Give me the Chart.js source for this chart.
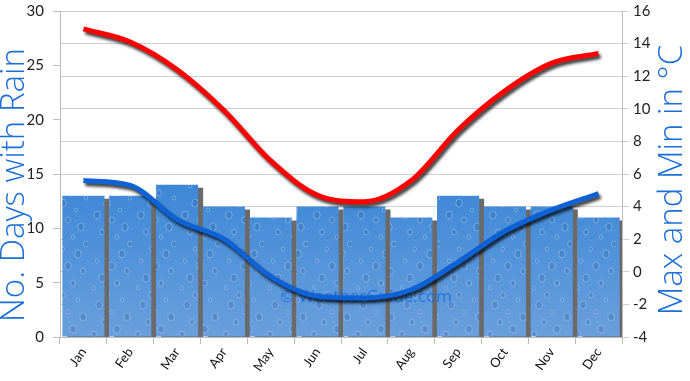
<!DOCTYPE html>
<html>
<head>
<meta charset="utf-8">
<script src="https://cdn.jsdelivr.net/npm/chart.js@4.4.0/dist/chart.umd.min.js"></script>
<style>
    html, body { margin: 0; padding: 0; background: #fff; }
    #wrap { width: 690px; height: 381px; }
</style>
</head>
<body>
<div id="wrap"><canvas id="myChart" width="690" height="381"></canvas></div>
<script>
var months = ['Jan', 'Feb', 'Mar', 'Apr', 'May', 'Jun', 'Jul', 'Aug', 'Sep', 'Oct', 'Nov', 'Dec'];
var rainDays = [13, 13, 14, 12, 11, 12, 12, 11, 13, 12, 12, 11];
var maxTemp = [14.9, 14.1, 12.4, 9.9, 6.8, 4.7, 4.3, 5.6, 8.7, 11.1, 12.8, 13.4];
var minTemp = [5.6, 5.3, 3.2, 2.0, -0.3, -1.5, -1.6, -1.1, 0.6, 2.5, 3.8, 4.8];
var rainTicks = [0, 5, 10, 15, 20, 25, 30];
var tempTicks = [-4, -2, 0, 2, 4, 6, 8, 10, 12, 14, 16];

var titleBlue = '#1a6fd9';
var tickFont = { family: 'Lato', size: 15 };

// rain texture for the bars
function makeRainPattern(ctx) {
    var c = document.createElement('canvas');
    c.width = 44;
    c.height = 381;
    var p = c.getContext('2d');
    var g = p.createLinearGradient(0, 180, 0, 340);
    g.addColorStop(0, '#3b87d6');
    g.addColorStop(1, '#6b9fdd');
    p.fillStyle = g;
    p.fillRect(0, 0, c.width, c.height);
    for (var y = 6; y < c.height; y += 17) {
        for (var k = 0; k < 3; k++) {
            var x = 6 + ((y * 7 + k * 15) % 38);
            var r = 2 + ((y + k * 5) % 3);
            p.beginPath();
            p.ellipse(x, y + k * 5, r * 0.8, r, 0, 0, Math.PI * 2);
            p.fillStyle = 'rgba(40,90,160,0.25)';
            p.fill();
            p.lineWidth = 1;
            p.strokeStyle = 'rgba(200,225,250,0.4)';
            p.stroke();
        }
    }
    return ctx.createPattern(c, 'repeat');
}

var shadowPlugin = {
    id: 'shadows',
    beforeDatasetDraw: function(chart, args) {
        var ctx = chart.ctx;
        ctx.save();
        if (args.meta.type === 'bar') {
            ctx.shadowColor = 'rgba(90,90,90,0.9)';
            ctx.shadowOffsetX = 5;
            ctx.shadowOffsetY = 3;
            ctx.shadowBlur = 1;
        } else {
            ctx.shadowColor = 'rgba(0,0,0,0.75)';
            ctx.shadowOffsetX = 2;
            ctx.shadowOffsetY = 3;
            ctx.shadowBlur = 3;
        }
    },
    afterDatasetDraw: function(chart, args) {
        var ctx = chart.ctx;
        ctx.restore();
        if (args.meta.type === 'bar') {
            var a = chart.chartArea;
            ctx.save();
            ctx.font = '17px "Open Sans"';
            ctx.fillStyle = 'rgba(26,111,217,0.85)';
            ctx.textAlign = 'center';
            ctx.textBaseline = 'middle';
            ctx.fillText('\u00a9 WeatherGuide.com', (a.left + a.right) / 2 + 25, 297);
            ctx.restore();
        }
    }
};

var titlePlugin = {
    id: 'sideTitles',
    afterDraw: function(chart) {
        var ctx = chart.ctx;
        var a = chart.chartArea;
        var mid = (a.top + a.bottom) / 2;
        [['No. Days with Rain', 15, mid + 11], ['Max and Min in \u00b0C', 673, mid + 6]].forEach(function(t) {
            ctx.save();
            ctx.font = '300 33px "Open Sans"';
            ctx.fillStyle = titleBlue;
            ctx.textAlign = 'center';
            ctx.textBaseline = 'middle';
            ctx.translate(t[1], t[2]);
            ctx.rotate(-Math.PI / 2);
            ctx.fillText(t[0], 0, 0);
            ctx.restore();
        });
    }
};

function fitY(width) {
    return function(axis) {
        axis.width = width;
        axis.paddingTop = 0;
        axis.paddingBottom = 0;
    };
}

var canvas = document.getElementById('myChart');
var pattern = makeRainPattern(canvas.getContext('2d'));

const config = {
    type: 'bar',
    data: {
        labels: months,
        datasets: [
            {
                type: 'line',
                label: 'Max',
                data: maxTemp,
                yAxisID: 'y1',
                borderColor: '#ff0000',
                borderWidth: 5,
                pointRadius: 0,
                cubicInterpolationMode: 'monotone',
                fill: false,
                order: 0
            },
            {
                type: 'line',
                label: 'Min',
                data: minTemp,
                yAxisID: 'y1',
                borderColor: '#0f62d6',
                borderWidth: 5,
                pointRadius: 0,
                cubicInterpolationMode: 'monotone',
                fill: false,
                order: 1
            },
            {
                label: 'Rain',
                data: rainDays,
                yAxisID: 'y',
                backgroundColor: pattern,
                barPercentage: 0.9,
                categoryPercentage: 1,
                order: 2
            }
        ]
    },
    options: {
        responsive: false,
        animation: false,
        layout: { padding: { left: 20, right: 20, top: 11, bottom: 0 } },
        plugins: {
            legend: { display: false },
            tooltip: { enabled: false }
        },
        scales: {
            x: {
                offset: true,
                afterFit: function(axis) { axis.height = 44; axis.paddingLeft = 0; axis.paddingRight = 0; },
                grid: { offset: true, drawOnChartArea: false, tickLength: 7, color: '#bbb' },
                border: { color: '#bbb' },
                ticks: { color: '#111', font: { family: 'Lato', size: 13 }, maxRotation: 55, minRotation: 55, padding: 1 }
            },
            y: {
                position: 'left',
                min: 0,
                max: 30,
                afterFit: fitY(40),
                afterBuildTicks: function(axis) { axis.ticks = rainTicks.map(v => ({ value: v })); },
                grid: { drawOnChartArea: false, tickLength: 7, color: '#bbb' },
                border: { color: '#bbb' },
                ticks: { color: '#222', font: tickFont, padding: 9 }
            },
            y1: {
                position: 'right',
                min: -4,
                max: 16,
                afterFit: fitY(48),
                afterBuildTicks: function(axis) { axis.ticks = tempTicks.map(v => ({ value: v })); },
                grid: { drawOnChartArea: true, tickLength: 7, color: '#d0d0d0' },
                border: { color: '#bbb' },
                ticks: { color: '#222', font: tickFont, padding: 4 }
            }
        }
    },
    plugins: [shadowPlugin, titlePlugin]
};

const myChart = new Chart(canvas, config);
</script>
</body>
</html>
